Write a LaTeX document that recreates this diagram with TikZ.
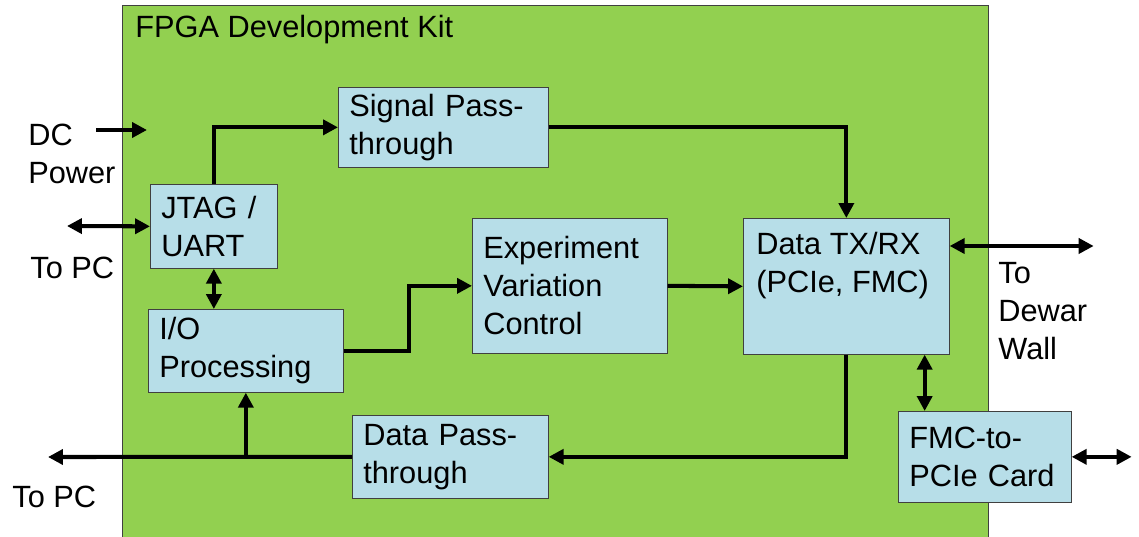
\documentclass[tikz,border=0pt]{standalone}
\usepackage{fontspec}
\setmainfont{Liberation Sans}
\usetikzlibrary{arrows.meta}
\definecolor{kitgreen}{RGB}{146,208,80}
\definecolor{blkblue}{RGB}{183,222,232}
\definecolor{edgegray}{RGB}{64,64,64}
\begin{document}
\begin{tikzpicture}[x=0.02cm,y=-0.02cm,
    font=\fontsize{17.5}{21.6}\selectfont,
    >={Triangle[length=8.5pt,width=8.5pt]},
    blk/.style={draw=edgegray,fill=blkblue,anchor=north west,align=left,inner xsep=0.22cm,inner ysep=0pt},
    lbl/.style={align=left,inner sep=0pt},
    conn/.style={line width=2.3pt}]
    \useasboundingbox (0,0) rectangle (1139,537);

    % the kit board
    \filldraw[fill=kitgreen,draw=edgegray] (122,5) rectangle (988,545);
    \node[lbl,anchor=west] (kitlbl) at (135,30) {FPGA Development Kit};

    % blocks
    \node[blk,text width=3.76cm,minimum height=1.6cm] (sig) at (338,87) {Signal Pass-\\through};
    \node[blk,text width=2.1cm,minimum height=1.68cm] (jtag) at (150,184) {JTAG /\\UART};
    \node[blk,text width=3.46cm,minimum height=2.7cm] (exp) at (472,218) {Experiment\\Variation\\Control};
    \node[blk,text width=3.68cm,minimum height=2.72cm] (dtx) at (743,218) {};
    \node[lbl,anchor=north west] (dtxlbl) at (756,232) {Data TX/RX\\(PCIe, FMC)};
    \node[blk,text width=3.46cm,minimum height=1.66cm] (io) at (148,309) {I/O\\Processing};
    \node[blk,text width=3.48cm,minimum height=1.66cm] (dpass) at (352,415) {Data Pass-\\through};
    \node[blk,text width=3.02cm,minimum height=1.82cm] (fmc) at (898,411) {FMC-to-\\PCIe Card};

    % outside labels
    \node[lbl,anchor=west] (dc) at (28,154) {DC\\Power};
    \node[lbl,anchor=west] (pctop) at (30,268) {To PC};
    \node[lbl,anchor=west] (pcbot) at (12,497) {To PC};
    \node[lbl,anchor=west] (dewar) at (998,311) {To\\Dewar\\Wall};

    \coordinate (dcin) at (96,130);
    \coordinate (dcend) at (147,130);
    \coordinate (pcjtag) at (67,226);
    \coordinate (pcout) at (48,457);

    % connections
    \draw[conn,->] (dcin) -- (dcend);
    \draw[conn,<->] (pcjtag) -- (jtag.west);
    \draw[conn,->] (jtag.north) |- (sig.west);
    \draw[conn,<->] (jtag.south) -- (jtag.south |- io.north);
    \draw[conn,->] (io.east) -- ++(65,0) |- (exp.west);
    \draw[conn,->] (exp.east) -- (dtx.west);
    \draw[conn,->] (sig.east) -| (dtx.north);
    \draw[conn,->] (dtx.south) |- (dpass.east);
    \draw[conn,->] (dpass.west) -- (pcout);
    \draw[conn,->] (io.south |- dpass.west) -- (io.south);
    \draw[conn,<->] ([xshift=-0.5cm]dtx.south east) -- ([xshift=-0.5cm]dtx.south east |- fmc.north);
    \draw[conn,<->] ([yshift=-0.56cm]dtx.north east) -- ++(144,0);
    \draw[conn,<->] (fmc.east) -- ++(60,0);
\end{tikzpicture}
\end{document}
